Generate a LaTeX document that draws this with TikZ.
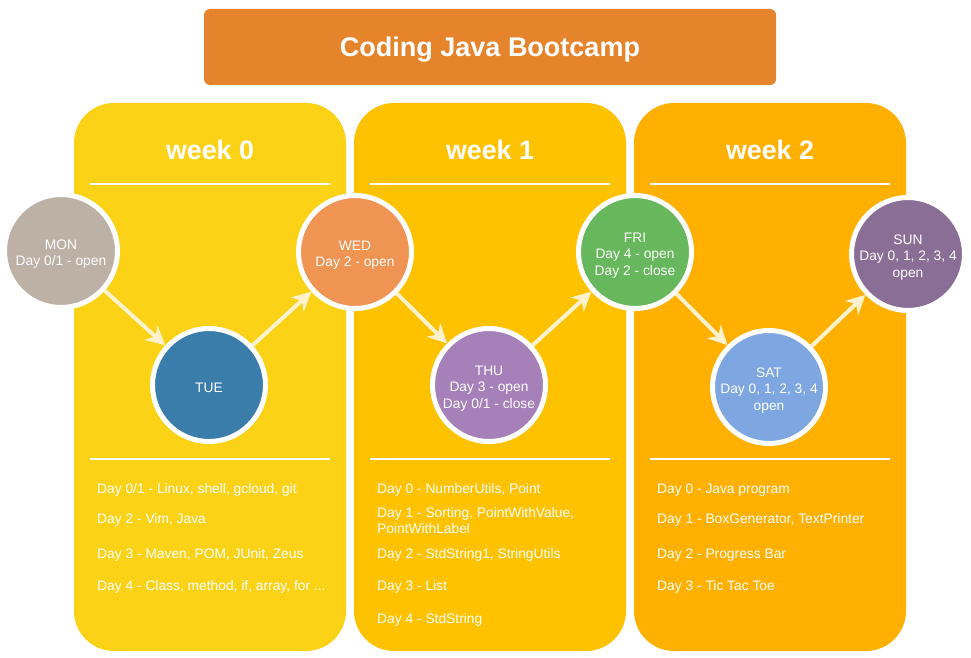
\documentclass[tikz,border=0pt]{standalone}
\usepackage{fontspec}
\setmainfont{Liberation Sans}
\usetikzlibrary{arrows.meta}
\definecolor{titlec}{HTML}{E5842A}
\definecolor{wkA}{HTML}{FCD217}
\definecolor{wkB}{HTML}{FFC200}
\definecolor{wkC}{HTML}{FFB000}
\definecolor{monc}{HTML}{BDB1A6}
\definecolor{tuec}{HTML}{3A7DAB}
\definecolor{wedc}{HTML}{EF9452}
\definecolor{thuc}{HTML}{A680B8}
\definecolor{fric}{HTML}{67B85C}
\definecolor{satc}{HTML}{7EA6E0}
\definecolor{sunc}{HTML}{8B6E96}
\definecolor{arrc}{HTML}{FFF2CC}
\newcommand\dtop{\rule{0pt}{16pt}}
\begin{document}
\begin{tikzpicture}[x=1pt,y=-1pt,
  colbox/.style={rounded corners=40pt, minimum width=272pt, minimum height=548pt, inner sep=0pt},
  daynode/.style={circle, minimum size=113pt, inner sep=0pt, draw=white, line width=5pt, text=white, align=center, font=\fontsize{13.8}{16.5}\selectfont},
  weeklbl/.style={text=white, font=\bfseries\fontsize{26.8}{30}\selectfont},
  item/.style={anchor=west, text=white, align=left, inner sep=0pt, font=\fontsize{13.8}{16.5}\selectfont},
  sepline/.style={draw=white, line width=1.6pt},
  flow/.style={draw=arrc, line width=4pt, -{Stealth[length=19pt,width=19pt,inset=6pt]}}
]
\useasboundingbox (0,0) rectangle (971,658);
% title
\node[fill=titlec, rounded corners=6pt, minimum width=572pt, minimum height=76pt, text=white, font=\bfseries\fontsize{27}{30}\selectfont] (title) at (490,47) {\rule{0pt}{25pt}Coding Java Bootcamp};
% columns
\node[colbox, fill=wkA] (w0) at (210,377) {};
\node[colbox, fill=wkB] (w1) at (490,377) {};
\node[colbox, fill=wkC] (w2) at (770,377) {};
% week labels
\node[weeklbl] (l0) at (210,150) {week 0};
\node[weeklbl] (l1) at (490,150) {week 1};
\node[weeklbl] (l2) at (770,150) {week 2};
% separators
\draw[sepline] (90,184) -- (330,184);
\draw[sepline] (370,184) -- (610,184);
\draw[sepline] (650,184) -- (890,184);
\draw[sepline] (90,459) -- (330,459);
\draw[sepline] (370,459) -- (610,459);
\draw[sepline] (650,459) -- (890,459);
% days
\node[daynode, fill=monc] (mon) at (61,251) {\dtop MON\\Day 0/1 - open};
\node[daynode, fill=tuec] (tue) at (209,385) {\dtop TUE};
\node[daynode, fill=wedc] (wed) at (355,252) {\dtop WED\\Day 2 - open};
\node[daynode, fill=thuc] (thu) at (489,385) {\dtop THU\\Day 3 - open\\Day 0/1 - close};
\node[daynode, fill=fric] (fri) at (635,252) {\dtop FRI\\Day 4 - open\\Day 2 - close};
\node[daynode, fill=satc] (sat) at (769,387) {\dtop SAT\\Day 0, 1, 2, 3, 4\\open};
\node[daynode, fill=sunc] (sun) at (908,254) {\dtop SUN\\Day 0, 1, 2, 3, 4\\open};
% arrows
\draw[flow] (mon) -- (tue);
\draw[flow] (tue) -- (wed);
\draw[flow] (wed) -- (thu);
\draw[flow] (thu) -- (fri);
\draw[flow] (fri) -- (sat);
\draw[flow] (sat) -- (sun);
% week 0 items
\node[item] (a0) at (97,490) {Day 0/1 - Linux, shell, gcloud, git};
\node[item] (a1) at (97,520) {Day 2 - Vim, Java};
\node[item] (a2) at (97,555) {Day 3 - Maven, POM, JUnit, Zeus};
\node[item] (a3) at (97,587) {Day 4 - Class, method, if, array, for ...};
% week 1 items
\node[item] (b0) at (377,490) {Day 0 - NumberUtils, Point};
\node[item] (b1) at (377,520.5) {Day 1 - Sorting, PointWithValue,\\PointWithLabel};
\node[item] (b2) at (377,555) {Day 2 - StdString1, StringUtils};
\node[item] (b3) at (377,587) {Day 3 - List};
\node[item] (b4) at (377,620) {Day 4 - StdString};
% week 2 items
\node[item] (c0) at (657,490) {Day 0 - Java program};
\node[item] (c1) at (657,520) {Day 1 - BoxGenerator, TextPrinter};
\node[item] (c2) at (657,555) {Day 2 - Progress Bar};
\node[item] (c3) at (657,587) {Day 3 - Tic Tac Toe};
\end{tikzpicture}
\end{document}
